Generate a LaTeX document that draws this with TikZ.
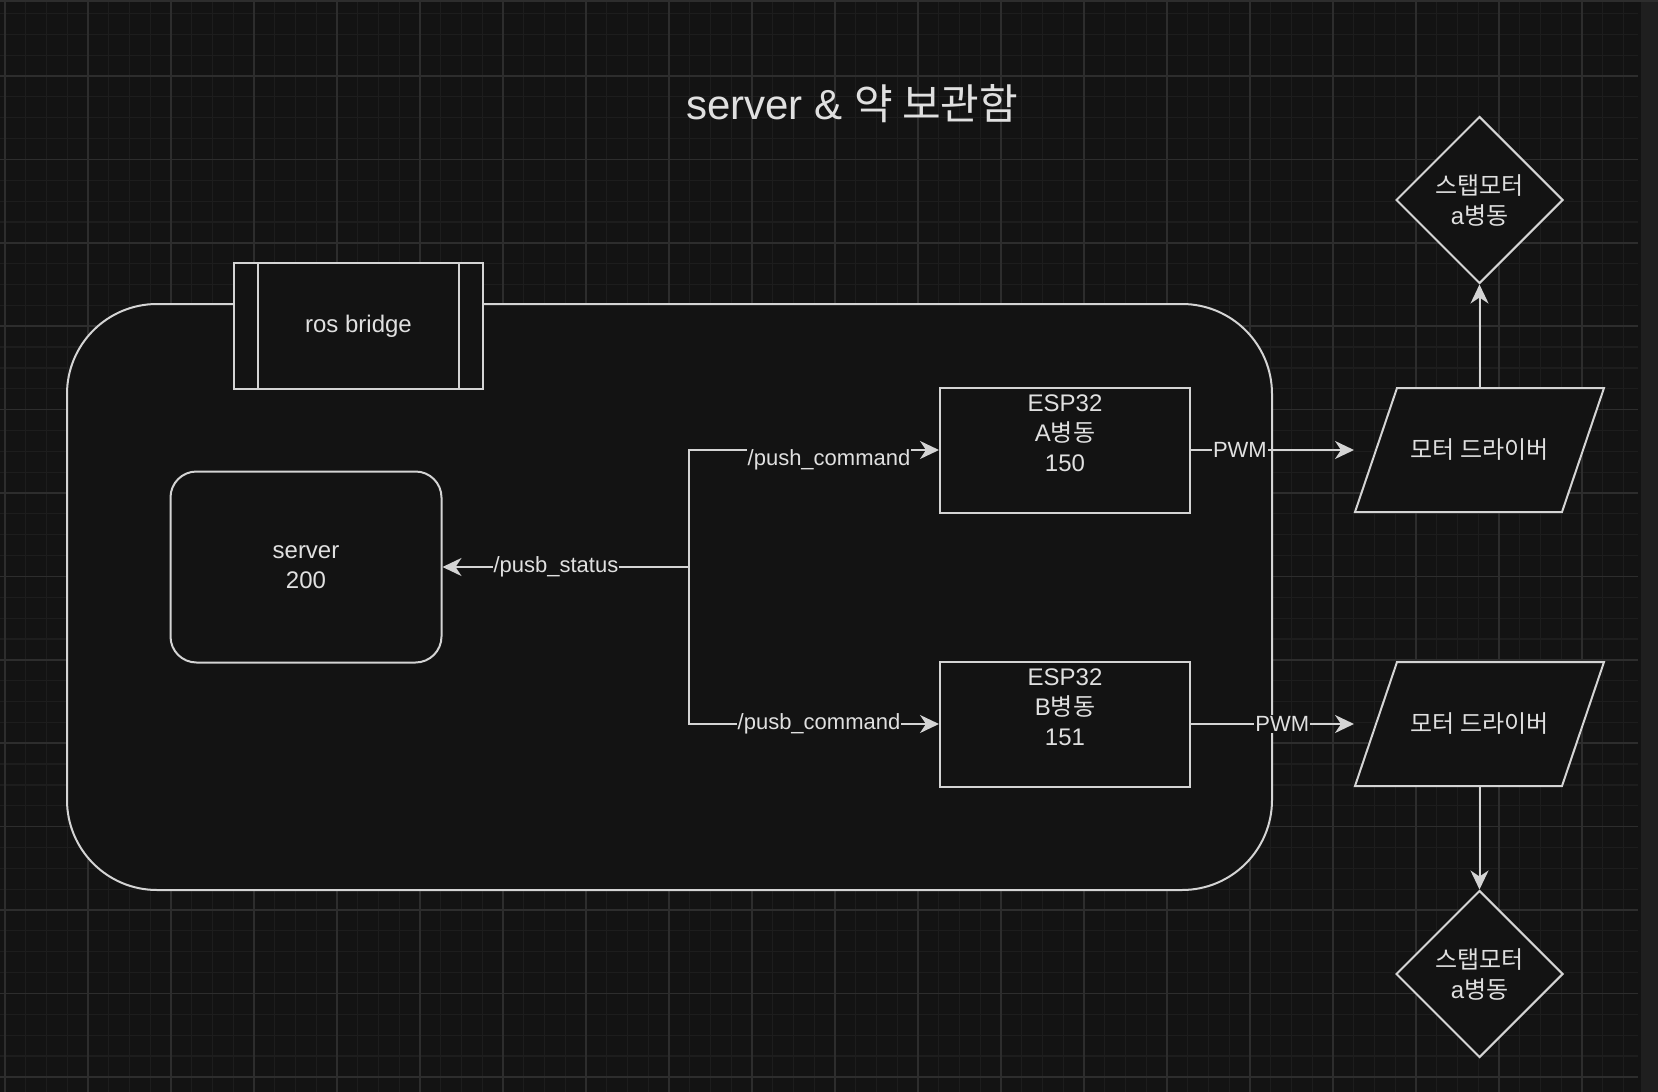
\documentclass[tikz,border=0pt]{standalone}
\usepackage{fontspec}
\setmainfont{Liberation Sans}
\newfontfamily\kr{Noto Sans CJK KR}
\usetikzlibrary{shapes.geometric,arrows.meta}
\definecolor{canvas}{HTML}{131313}
\definecolor{gridminor}{HTML}{1D1D1D}
\definecolor{gridmajor}{HTML}{2D2D2D}
\definecolor{edgegray}{HTML}{D4D4D4}
\definecolor{textgray}{HTML}{E0E0E0}
\tikzset{
  shp/.style={draw=edgegray, line width=2pt, fill=canvas, text=textgray,
    font=\fontsize{24}{30}\selectfont, align=center, inner sep=0pt},
  hubbox/.style={shp, rounded corners=90pt, minimum width=1205pt, minimum height=586pt},
  srvbox/.style={shp, rounded corners=26pt, minimum width=271pt, minimum height=191pt},
  rosbox/.style={shp, minimum width=249pt, minimum height=126pt},
  espbox/.style={shp, minimum width=250pt, minimum height=125pt},
  drvbox/.style={shp, draw=none, fill=none, minimum width=249pt, minimum height=124pt},
  slantline/.style={draw=edgegray, line width=2pt, fill=canvas, line join=miter},
  motorbox/.style={shp, diamond, aspect=1, minimum width=167pt, minimum height=167pt},
  esptext/.style={text=textgray, font=\fontsize{24}{30}\selectfont, align=center,
    anchor=north, inner sep=8pt},
  lbl/.style={fill=canvas, text=textgray, font=\fontsize{22}{26}\selectfont, inner sep=1pt},
  conn/.style={draw=edgegray, line width=2pt, -{Stealth[length=19pt,width=18pt,inset=6pt]}}
}
\begin{document}
\begin{tikzpicture}[x=1pt,y=-1pt]
  \useasboundingbox (0,0) rectangle (1658,1092);
  \fill[canvas] (0,0) rectangle (1658,1092);
  \begin{scope}
    \clip (0,0) rectangle (1638,1092);
    \foreach \k in {0,...,79}
      \draw[gridminor, line width=1.2pt] ({5+20.75*\k},0) -- ({5+20.75*\k},1092);
    \foreach \k in {0,...,52}
      \draw[gridminor, line width=1.2pt] (0,{13.45+20.85*\k}) -- (1638,{13.45+20.85*\k});
    \foreach \k in {0,...,19}
      \draw[gridmajor, line width=1.5pt] ({5+83*\k},0) -- ({5+83*\k},1092);
    \foreach \k in {0,...,12}
      \draw[gridmajor, line width=1.5pt] (0,{76+83.4*\k}) -- (1638,{76+83.4*\k});
  \end{scope}
  \fill[black!88] (1641,0) rectangle (1658,1092);
  \draw[gridmajor, line width=1.5pt] (0,0.75) -- (1658,0.75);

  \node[text=textgray, font=\fontsize{42}{50}\selectfont] (title) at (852,104) {server \& {\kr 약 보관함}};

  \node[hubbox] (hub) at (669.5,597) {};
  \node[rosbox] (ros) at (358.5,326) {ros bridge};
  \draw[edgegray, line width=2pt] ([xshift=25pt]ros.north west) -- ([xshift=25pt]ros.south west);
  \draw[edgegray, line width=2pt] ([xshift=-25pt]ros.north east) -- ([xshift=-25pt]ros.south east);
  \node[srvbox] (srv) at (306,567) {server\\200};
  \node[espbox, label={[esptext]north:ESP32\\A{\kr 병동}\\150}] (espA) at (1065,450) {};
  \node[espbox, label={[esptext]north:ESP32\\B{\kr 병동}\\151}] (espB) at (1065,724) {};
  \foreach \drv/\y in {drvA/450, drvB/724} {
    \path[slantline] (1397,\y-62) -- (1604,\y-62) -- (1562,\y+62) -- (1355,\y+62) -- cycle;
    \node[drvbox] (\drv) at (1479.5,\y) {\kr 모터 드라이버};
  }
  \node[motorbox] (motA) at (1479.5,200) {{\kr 스탭모터}\\a{\kr 병동}};
  \node[motorbox] (motB) at (1479.5,974) {{\kr 스탭모터}\\a{\kr 병동}};
  \coordinate (jn) at (689,567);

  \begin{scope}[every path/.style={conn}]
    \draw (jn) -- node[lbl, pos=0.54] {/pusb\_status} (srv);
    \draw (jn) |- node[lbl, pos=0.78, yshift=-10pt] {/push\_command} (espA);
    \draw (jn) |- node[lbl, pos=0.76] {/pusb\_command} (espB);
    \draw (espA) -- node[lbl, pos=0.3] {PWM} (espA -| drvA.west);
    \draw (espB) -- node[lbl, pos=0.56] {PWM} (espB -| drvB.west);
    \draw (drvA) -- (motA);
    \draw (drvB) -- (motB);
  \end{scope}
\end{tikzpicture}
\end{document}
